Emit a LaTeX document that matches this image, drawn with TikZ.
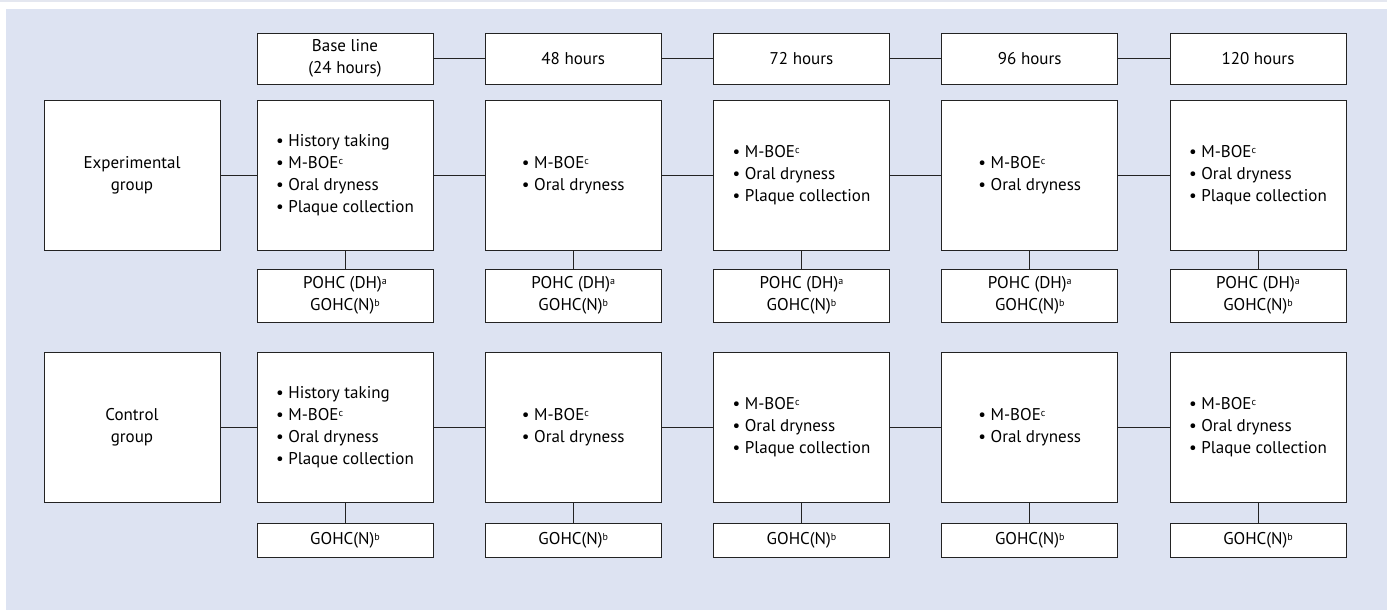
\documentclass[tikz,border=0pt]{standalone}
\usepackage{fontspec}
\setmainfont{PT Sans}
\definecolor{bgblue}{RGB}{221,227,242}
\definecolor{topc}{RGB}{228,231,240}
\definecolor{linec}{RGB}{35,35,35}
\newcommand{\sps}[1]{\raisebox{0.5ex}{\fontsize{10}{10}\selectfont #1}}
\begin{document}
\begin{tikzpicture}[x=1pt,y=-1pt,
  font=\fontsize{17}{22}\selectfont,
  box/.style={draw=linec, line width=0.9pt, fill=white, inner sep=0pt, align=center, minimum width=176pt},
  listbox/.style={box, align=left, minimum height=150pt},
  conn/.style={draw=linec, line width=0.9pt}]
\useasboundingbox (0,0) rectangle (1387,610);
\fill[topc] (0,0) rectangle (1387,2);
\fill[white] (0,2) rectangle (1387,9);
\fill[bgblue] (6,9) rectangle (1387,610);

% header row
\node[box, minimum height=51pt] (h1) at (345,58.5) {Base line\\(24 hours)};
\node[box, minimum height=51pt] (h2) at (573.25,58.5) {48 hours};
\node[box, minimum height=51pt] (h3) at (801.5,58.5) {72 hours};
\node[box, minimum height=51pt] (h4) at (1029.75,58.5) {96 hours};
\node[box, minimum height=51pt] (h5) at (1258,58.5) {120 hours};

% experimental group
\node[box, minimum height=150pt] (eg) at (132,175) {Experimental\\group};
\node[listbox] (e1) at (345,175) {• History taking\\• M-BOE\sps{c}\\• Oral dryness\\• Plaque collection};
\node[listbox] (e2) at (573.25,175) {• M-BOE\sps{c}\\• Oral dryness};
\node[listbox] (e3) at (801.5,175) {• M-BOE\sps{c}\\• Oral dryness\\• Plaque collection};
\node[listbox] (e4) at (1029.75,175) {• M-BOE\sps{c}\\• Oral dryness};
\node[listbox] (e5) at (1258,175) {• M-BOE\sps{c}\\• Oral dryness\\• Plaque collection};

\foreach \i/\x in {1/345,2/573.25,3/801.5,4/1029.75,5/1258}{
  \node[box, minimum height=53pt] (es\i) at (\x,295.5) {POHC (DH)\sps{a}\\GOHC(N)\sps{b}};
}

% control group
\node[box, minimum height=150pt] (cg) at (132,427) {Control\\group};
\node[listbox] (c1) at (345,427) {• History taking\\• M-BOE\sps{c}\\• Oral dryness\\• Plaque collection};
\node[listbox] (c2) at (573.25,427) {• M-BOE\sps{c}\\• Oral dryness};
\node[listbox] (c3) at (801.5,427) {• M-BOE\sps{c}\\• Oral dryness\\• Plaque collection};
\node[listbox] (c4) at (1029.75,427) {• M-BOE\sps{c}\\• Oral dryness};
\node[listbox] (c5) at (1258,427) {• M-BOE\sps{c}\\• Oral dryness\\• Plaque collection};

\foreach \i/\x in {1/345,2/573.25,3/801.5,4/1029.75,5/1258}{
  \node[box, minimum height=34pt] (cs\i) at (\x,540.5) {GOHC(N)\sps{b}};
}

% connectors
\draw[conn] (h1) -- (h2);
\draw[conn] (h2) -- (h3);
\draw[conn] (h3) -- (h4);
\draw[conn] (h4) -- (h5);
\draw[conn] (eg) -- (e1);
\draw[conn] (e1) -- (e2);
\draw[conn] (e2) -- (e3);
\draw[conn] (e3) -- (e4);
\draw[conn] (e4) -- (e5);
\draw[conn] (cg) -- (c1);
\draw[conn] (c1) -- (c2);
\draw[conn] (c2) -- (c3);
\draw[conn] (c3) -- (c4);
\draw[conn] (c4) -- (c5);
\foreach \i in {1,...,5}{
  \draw[conn] (e\i) -- (es\i);
  \draw[conn] (c\i) -- (cs\i);
}
\end{tikzpicture}
\end{document}
